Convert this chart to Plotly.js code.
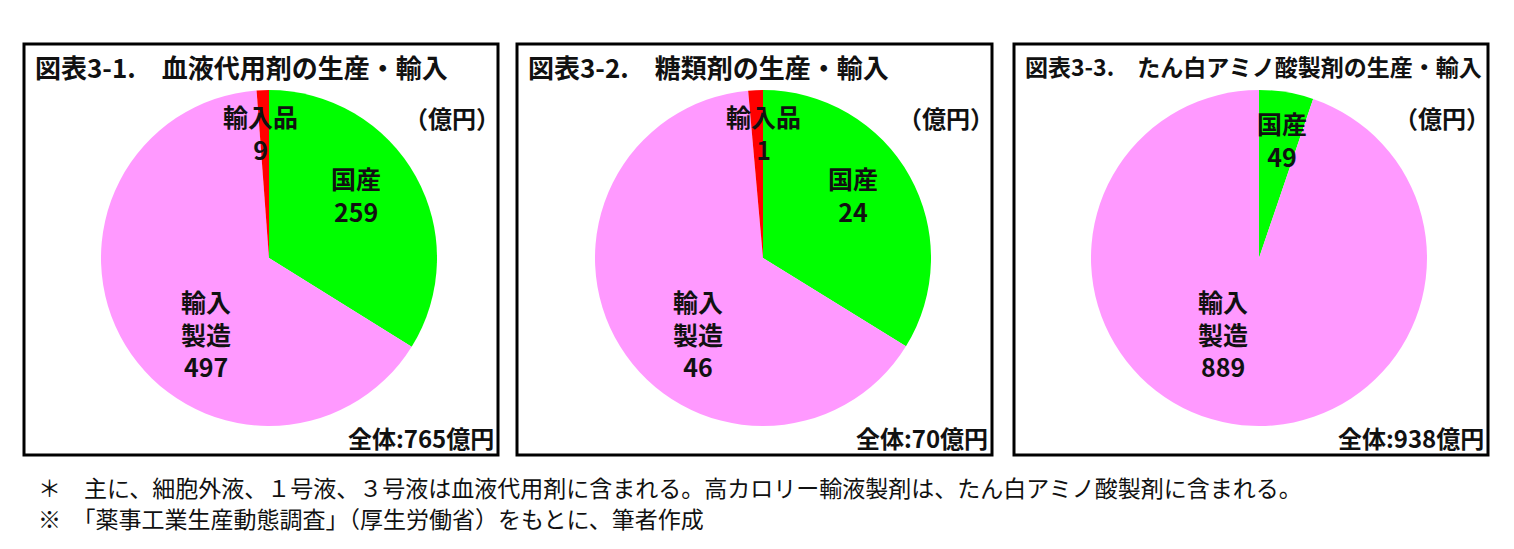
<!DOCTYPE html>
<html>
<head>
<meta charset="utf-8">
<script src="https://cdn.plot.ly/plotly-3.0.1.min.js"></script>
<style>
  html, body { margin: 0; padding: 0; background: #fff; }
  #plot { width: 1514px; height: 549px; }
</style>
</head>
<body>
<div id="plot"></div>
<script>
// data (億円)
const titles = [
    '図表3-1.　血液代用剤の生産・輸入',
    '図表3-2.　糖類剤の生産・輸入',
    '図表3-3.　たん白アミノ酸製剤の生産・輸入'
];
const sliceNames = ['国産', '輸入<br>製造', '輸入品'];
const sliceColors = ['#00ff00', '#ff99ff', '#ff0000'];
const values1 = [259, 497, 9];
const values2 = [24, 46, 1];
const values3 = [49, 889];
const totals = [765, 70, 938];
const footnotes = [
    '＊　主に、細胞外液、１号液、３号液は血液代用剤に含まれる。高カロリー輸液製剤は、たん白アミノ酸製剤に含まれる。',
    '※　「薬事工業生産動態調査」（厚生労働省）をもとに、筆者作成'
];

const W = 1514, H = 549;
const px = x => x / W;
const py = y => 1 - y / H;
const FONT = '"Noto Sans CJK JP", "Noto Sans", sans-serif';

// panel frames and pie placement, in pixels
const panels = [
    { box: [24, 44, 498, 455], pie: [101, 90, 437, 426], titleSize: 26,
      labelPos: [[356, 194], [206, 333], [260, 133]] },
    { box: [517, 44, 992, 455], pie: [595, 90, 931, 426], titleSize: 26,
      labelPos: [[853, 194], [698, 333], [763, 133]] },
    { box: [1014, 44, 1488, 455], pie: [1091, 90, 1427, 426], titleSize: 23,
      labelPos: [[1282, 139], [1223, 333]] }
];
const allValues = [values1, values2, values3];

const traces = allValues.map((vals, i) => {
    const p = panels[i].pie;
    return {
        type: 'pie',
        values: vals,
        labels: sliceNames.slice(0, vals.length).map(s => s.replace('<br>', '')),
        marker: { colors: sliceColors.slice(0, vals.length), line: { width: 0 } },
        sort: false,
        direction: 'clockwise',
        rotation: 0,
        textinfo: 'none',
        hoverinfo: 'label+value',
        showlegend: false,
        domain: { x: [px(p[0]), px(p[2])], y: [py(p[3]), py(p[1])] }
    };
});

const shapes = panels.map(pn => ({
    type: 'rect', xref: 'paper', yref: 'paper',
    x0: px(pn.box[0]), x1: px(pn.box[2]), y0: py(pn.box[3]), y1: py(pn.box[1]),
    line: { color: '#000', width: 3 }, fillcolor: 'rgba(0,0,0,0)'
}));

const annotations = [];
const bold = (size) => ({ family: FONT, size: size, color: '#111', weight: 700 });

panels.forEach((pn, i) => {
    // panel title
    annotations.push({
        xref: 'paper', yref: 'paper', x: px(pn.box[0] + 9), y: py(66),
        xanchor: 'left', yanchor: 'middle', showarrow: false,
        text: titles[i], font: bold(pn.titleSize)
    });
    // unit
    annotations.push({
        xref: 'paper', yref: 'paper', x: px(pn.box[2] + 4), y: py(118),
        xanchor: 'right', yanchor: 'middle', showarrow: false,
        text: '（億円）', font: bold(24)
    });
    // total
    annotations.push({
        xref: 'paper', yref: 'paper', x: px(pn.box[2] - 2), y: py(437),
        xanchor: 'right', yanchor: 'middle', showarrow: false,
        text: '全体:' + totals[i] + '億円', font: bold(24)
    });
    // slice labels
    allValues[i].forEach((v, k) => {
        annotations.push({
            xref: 'paper', yref: 'paper', x: px(pn.labelPos[k][0]), y: py(pn.labelPos[k][1]),
            xanchor: 'center', yanchor: 'middle', showarrow: false,
            text: sliceNames[k] + '<br>' + v, font: bold(25)
        });
    });
});

footnotes.forEach((t, i) => {
    annotations.push({
        xref: 'paper', yref: 'paper', x: px(36), y: py(487 + i * 31),
        xanchor: 'left', yanchor: 'middle', showarrow: false,
        text: t, font: { family: FONT, size: 23, color: '#111' }
    });
});

const layout = {
    width: W,
    height: H,
    margin: { l: 0, r: 0, t: 0, b: 0 },
    paper_bgcolor: '#fff',
    shapes: shapes,
    annotations: annotations
};

Plotly.newPlot('plot', traces, layout, { displayModeBar: false, staticPlot: true });
</script>
</body>
</html>
